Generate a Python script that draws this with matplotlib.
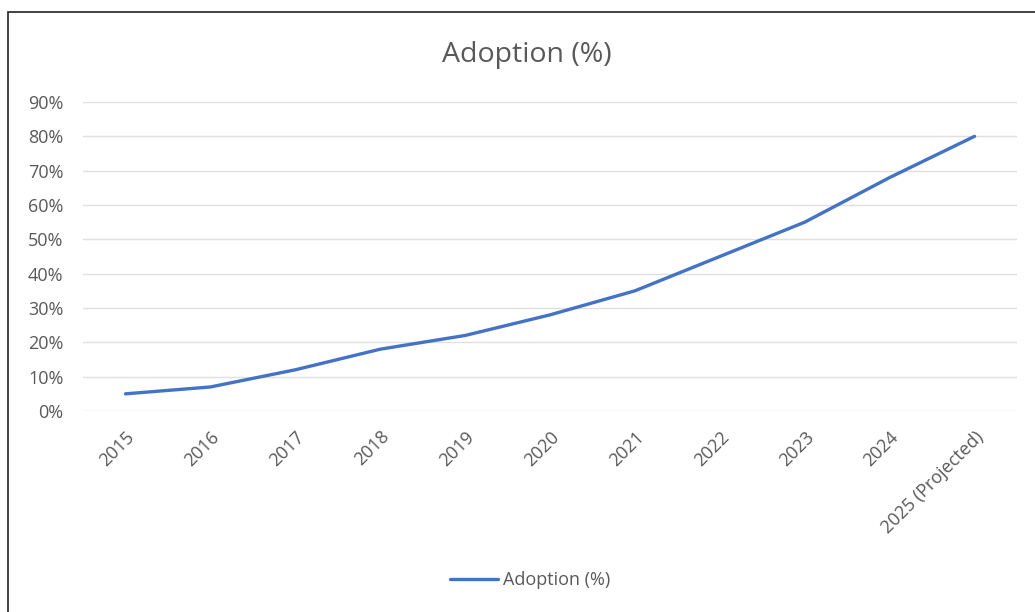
import matplotlib
matplotlib.use("Agg")
import matplotlib.pyplot as plt
from matplotlib.patches import Rectangle
from matplotlib.ticker import FuncFormatter

plt.rcParams['font.family'] = ['Open Sans', 'DejaVu Sans']

years = ["2015", "2016", "2017", "2018", "2019", "2020",
         "2021", "2022", "2023", "2024", "2025 (Projected)"]
adoption = [5, 7, 12, 18, 22, 28, 35, 45, 55, 68, 80]

text_grey = "#595959"
line_blue = "#4472C4"

fig = plt.figure(figsize=(10.35, 6.12), dpi=100)
ax = fig.add_axes([83 / 1035, 201 / 612, 934 / 1035, 309 / 612])

x = list(range(len(years)))
ax.plot(x, adoption, color=line_blue, linewidth=2.4, solid_capstyle="round",
        label="Adoption (%)")

ax.set_xlim(-0.5, len(years) - 0.5)
ax.set_ylim(0, 90)
ax.set_yticks(range(0, 91, 10))
ax.yaxis.set_major_formatter(FuncFormatter(lambda v, p: f"{int(v)}%"))
ax.set_xticks(x)
ax.set_xticklabels(years, rotation=45, ha="right", rotation_mode="anchor")

ax.grid(axis="y", color="#e0e0e0", linewidth=1)
ax.set_axisbelow(True)
for s in ax.spines.values():
    s.set_visible(False)
ax.tick_params(axis="both", length=0, colors=text_grey, labelsize=13)
ax.tick_params(axis="y", pad=14)
ax.tick_params(axis="x", pad=12)

fig.text(527 / 1035, 1 - 55 / 612, "Adoption (%)", ha="center", va="center",
         fontsize=20.5, color=text_grey)

leg = fig.legend(loc="center", bbox_to_anchor=(530 / 1035, 1 - 580 / 612),
                 frameon=False, fontsize=13, handlelength=2.7, handletextpad=0.25)
for t in leg.get_texts():
    t.set_color(text_grey)

# chart frame (cut off on the right and bottom)
fig.patches.append(Rectangle((8 / 1035, -0.1), 1.2, 1 - 12 / 612 + 0.1,
                             transform=fig.transFigure, fill=False,
                             edgecolor="#222222", linewidth=1.2))

fig.savefig("out.png", dpi=100)
